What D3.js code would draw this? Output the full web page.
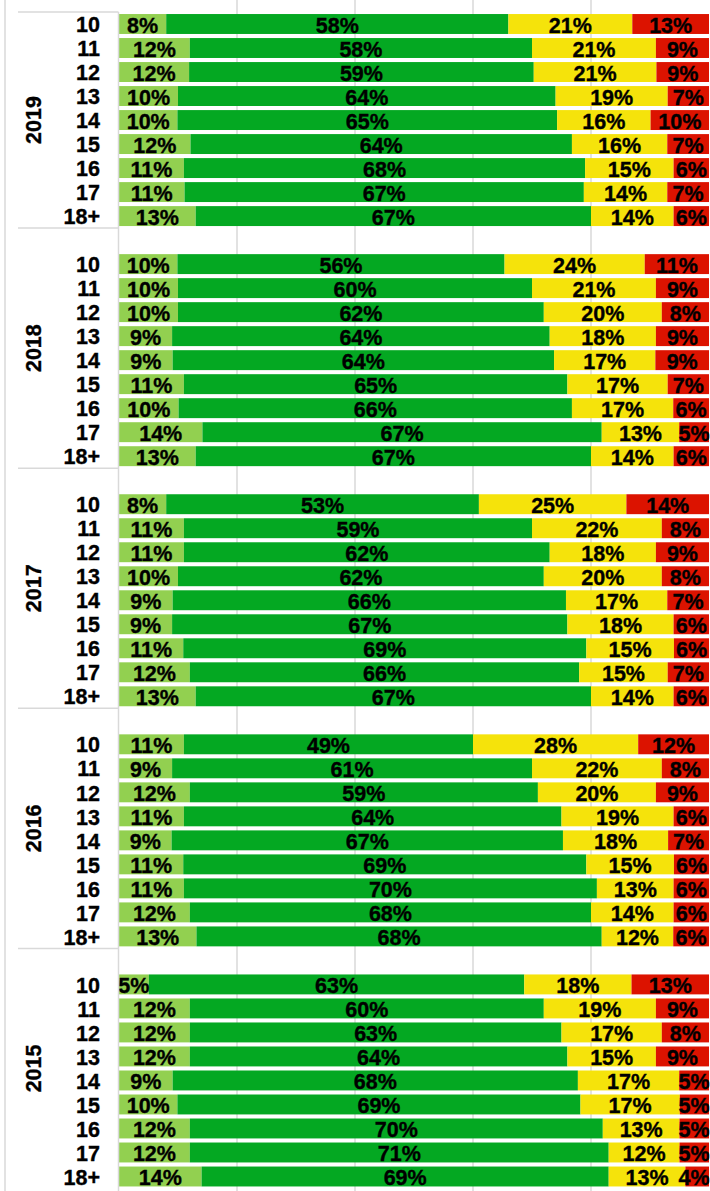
<!DOCTYPE html>
<html>
<head>
<meta charset="utf-8">
<script src="https://cdn.jsdelivr.net/npm/d3@7"></script>
<style>
  html, body { margin: 0; padding: 0; background: #fff; }
  svg { display: block; }
  text { font-family: "Liberation Sans", Arial, sans-serif; font-weight: bold; fill: #000; stroke: #000; stroke-width: 0.35px; }
</style>
</head>
<body>
<svg id="chart" width="710" height="1191"></svg>
<script>
// ---- data ----
const years = ["2019", "2018", "2017", "2016", "2015"];
const ages = ["10", "11", "12", "13", "14", "15", "16", "17", "18+"];
const seriesKeys = ["s1", "s2", "s3", "s4"];
const seriesColors = ["#92d050", "#04a822", "#f5e30b", "#dc1300"];

// each row: [light green, green, yellow, red] in %, ages 10..18+
const values2019 = [[8,58,21,13],[12,58,21,9],[12,59,21,9],[10,64,19,7],[10,65,16,10],[12,64,16,7],[11,68,15,6],[11,67,14,7],[13,67,14,6]];
const values2018 = [[10,56,24,11],[10,60,21,9],[10,62,20,8],[9,64,18,9],[9,64,17,9],[11,65,17,7],[10,66,17,6],[14,67,13,5],[13,67,14,6]];
const values2017 = [[8,53,25,14],[11,59,22,8],[11,62,18,9],[10,62,20,8],[9,66,17,7],[9,67,18,6],[11,69,15,6],[12,66,15,7],[13,67,14,6]];
const values2016 = [[11,49,28,12],[9,61,22,8],[12,59,20,9],[11,64,19,6],[9,67,18,7],[11,69,15,6],[11,70,13,6],[12,68,14,6],[13,68,12,6]];
const values2015 = [[5,63,18,13],[12,60,19,9],[12,63,17,8],[12,64,15,9],[9,68,17,5],[10,69,17,5],[12,70,13,5],[12,71,12,5],[14,69,13,4]];
const valuesByYear = [values2019, values2018, values2017, values2016, values2015];
const gridTicks = [0.2, 0.4, 0.6, 0.8];

// ---- build table ----
const rows = [];
const slots = [];
years.forEach((yr, i) => {
  if (i > 0) slots.push("gap" + i);
  ages.forEach((a, j) => {
    const key = yr + "|" + a;
    slots.push(key);
    const v = valuesByYear[i][j];
    const r = { key, year: yr, age: a };
    seriesKeys.forEach((k, s) => r[k] = v[s]);
    rows.push(r);
  });
});

const stack = d3.stack().keys(seriesKeys).offset(d3.stackOffsetExpand);
const stacked = stack(rows);

// ---- scales ----
const svg = d3.select("#chart");
const W = 710, H = 1191;
const x = d3.scaleLinear().domain([0, 1]).range([119, 709]);
const y = d3.scaleBand().domain(slots).range([12, 1188.5]).paddingInner(0.17).paddingOuter(0.085);
const step = y.step();
const color = d3.scaleOrdinal().domain(seriesKeys).range(seriesColors);
const FS = 21.5;

// chart border at left
svg.append("line").attr("x1", 5).attr("x2", 5).attr("y1", 0).attr("y2", H)
  .attr("stroke", "#d9d9d9").attr("stroke-width", 1.5);

// gridlines
svg.append("g").selectAll("line").data(gridTicks).join("line")
  .attr("x1", d => x(d)).attr("x2", d => x(d))
  .attr("y1", 0).attr("y2", H)
  .attr("stroke", "#d9d9d9").attr("stroke-width", 1.5);

// bars
const layers = svg.append("g").selectAll("g").data(stacked).join("g")
  .attr("fill", d => color(d.key));
layers.selectAll("rect").data(d => d).join("rect")
  .attr("x", d => x(d[0]))
  .attr("width", d => x(d[1]) - x(d[0]))
  .attr("y", d => y(d.data.key))
  .attr("height", y.bandwidth());

// value labels
const labelG = svg.append("g");
stacked.forEach(layer => {
  labelG.selectAll(null).data(layer).join("text")
    .attr("x", d => (x(d[0]) + x(d[1])) / 2)
    .attr("y", d => y(d.data.key) + y.bandwidth() / 2)
    .attr("dy", "0.4em")
    .attr("text-anchor", "middle")
    .attr("font-size", FS)
    .text(d => d.data[layer.key] + "%")
    .each(function(d) {
      const w = this.getComputedTextLength();
      const cx = (x(d[0]) + x(d[1])) / 2;
      const maxX = W - 0.5 - w / 2;
      if (cx > maxX) d3.select(this).attr("x", maxX);
    });
});

// category axis line
svg.append("line").attr("x1", 118.5).attr("x2", 118.5).attr("y1", 12).attr("y2", H)
  .attr("stroke", "#d9d9d9").attr("stroke-width", 1.5);

// group separators
const groupTops = years.map((yr, i) => i === 0 ? y(yr + "|" + ages[0]) - y.paddingOuter() * step : y("gap" + i) - y.paddingInner() * step / 2);
svg.append("g").selectAll("line").data(groupTops).join("line")
  .attr("x1", 18).attr("x2", 118.5)
  .attr("y1", d => d).attr("y2", d => d)
  .attr("stroke", "#d9d9d9").attr("stroke-width", 1.5);

// age labels
svg.append("g").selectAll("text").data(rows).join("text")
  .attr("x", 100)
  .attr("y", d => y(d.key) + y.bandwidth() / 2)
  .attr("dy", "0.38em")
  .attr("text-anchor", "end")
  .attr("font-size", FS)
  .text(d => d.age);

// year labels (centered on group incl. blank slot)
svg.append("g").selectAll("text").data(years).join("text")
  .attr("transform", (yr, i) => {
    const first = i === 0 ? yr + "|" + ages[0] : "gap" + i;
    const last = yr + "|" + ages[ages.length - 1];
    const cy = (y(first) + y(last) + y.bandwidth()) / 2;
    return `translate(33,${cy}) rotate(-90)`;
  })
  .attr("dy", "0.36em")
  .attr("text-anchor", "middle")
  .attr("font-size", FS)
  .text(d => d);
</script>
</body>
</html>
